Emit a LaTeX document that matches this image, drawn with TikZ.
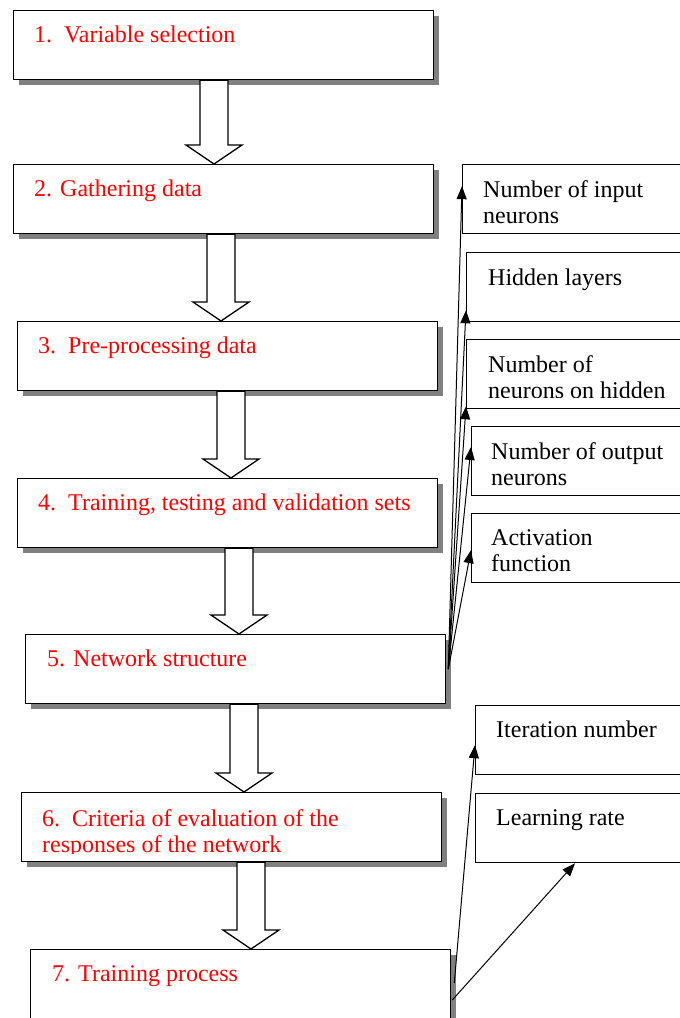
\documentclass[tikz,border=0pt]{standalone}
\usepackage{fontspec}
\setmainfont{Liberation Serif}
\usepackage{tikz}
\usetikzlibrary{calc,positioning,shadows,arrows.meta}

% hollow block arrow: from box #1 down to box #2, axis #3 from the west side of #2
\newcommand{\flowarrow}[3]{%
  \path ($(#2.north west)+(#3,0)$) coordinate (tip);
  \draw[fill=white,line width=1.3pt] (tip) -- ++(-28,-19) -- ++(14,0)
    -- ($(#1.south -| tip)+(-14,0)$) -- ++(28,0)
    -- ($(tip)+(14,-19)$) -- ++(14,0) -- cycle;
}

\begin{document}
\begin{tikzpicture}[x=1pt,y=-1pt,
    stepbox/.style={draw,line width=1.3pt,fill=white,anchor=north west,inner sep=0pt,
      minimum width=420pt,minimum height=69pt,
      drop shadow={shadow xshift=5pt,shadow yshift=-5pt,fill=black!50,opacity=1}},
    sidebox/.style={draw,line width=1.3pt,fill=white,anchor=north west,inner sep=0pt,
      minimum width=240pt,minimum height=69pt},
    steptext/.style={text=red,inner sep=0pt,align=left,
      font=\fontsize{24}{26.5}\selectfont},
    sidetext/.style={steptext,text=black},
    link/.style={line width=1pt,-{Triangle[length=13pt,width=10pt]}}]
  \useasboundingbox (0,0) rectangle (680,1018);
  \clip (0,0) rectangle (680,1018);

  % main steps
  \node[stepbox] (s1) at (13,10) {};
  \node[stepbox] (s2) at (13,164) {};
  \node[stepbox] (s3) at (17,321) {};
  \node[stepbox] (s4) at (17,478) {};
  \node[stepbox] (s5) at (25,634) {};
  \node[stepbox] (s6) at (21,792) {};
  \node[stepbox,minimum height=80pt] (s7) at (30,949) {};

  \node[steptext,below right=16pt and 21pt of s1.north west] (t1) {1.\ \ Variable selection};
  \node[steptext,below right=16pt and 21pt of s2.north west] (t2) {2. Gathering data};
  \node[steptext,below right=16pt and 21pt of s3.north west] (t3) {3.\ \ Pre-processing data};
  \node[steptext,below right=16pt and 21pt of s4.north west] (t4) {4.\ \ Training, testing and validation sets};
  \node[steptext,below right=16pt and 22pt of s5.north west] (t5) {5. Network structure};
  \begin{scope}
    \clip (s6.north west) rectangle ([yshift=9pt]s6.south east);
    \node[steptext,below right=17pt and 21pt of s6.north west] (t6) {6.\ \ Criteria of evaluation of the\\responses of the network};
  \end{scope}
  \node[steptext,below right=16pt and 22pt of s7.north west] (t7) {7. Training process};

  \flowarrow{s1}{s2}{201}
  \flowarrow{s2}{s3}{204}
  \flowarrow{s3}{s4}{214}
  \flowarrow{s4}{s5}{214}
  \flowarrow{s5}{s6}{223}
  \flowarrow{s6}{s7}{221}

  % network structure items
  \node[sidebox] (ra) at (462,164) {};
  \node[sidebox] (rb) at (466,252) {};
  \node[sidebox] (rc) at (466,339) {};
  \node[sidebox] (rd) at (471,426) {};
  \node[sidebox] (re) at (471,513) {};
  \node[sidetext,below right=16pt and 21pt of ra.north west] (ta) {Number of input\\neurons};
  \node[sidetext,below right=17pt and 22pt of rb.north west] (tb) {Hidden layers};
  \begin{scope}
    \clip (rc.north west) rectangle ([yshift=12pt]rc.south east);
    \node[sidetext,below right=16pt and 22pt of rc.north west] (tc) {Number of\\neurons on hidden};
  \end{scope}
  \node[sidetext,below right=16pt and 20pt of rd.north west] (td) {Number of output\\neurons};
  \node[sidetext,below right=16pt and 20pt of re.north west] (te) {Activation\\function};

  % training items
  \node[sidebox] (rf) at (475,705) {};
  \node[sidebox] (rg) at (475,793) {};
  \node[sidetext,below right=16pt and 21pt of rf.north west] (tf) {Iteration number};
  \node[sidetext,below right=16pt and 21pt of rg.north west] (tg) {Learning rate};

  \coordinate (o5) at ([xshift=2pt]s5.east);
  \draw[link] (o5) -- ([yshift=13pt]ra.west);
  \draw[link] (o5) -- ([yshift=12pt]rb.south west);
  \draw[link] (o5) -- ([yshift=3pt]rc.south west);
  \draw[link] (o5) -- ([yshift=-21pt]rd.north west);
  \draw[link] (o5) -- ([yshift=-2pt]re.west);

  \coordinate (o7a) at ([xshift=3pt,yshift=-34pt]s7.north east);
  \coordinate (o7b) at ([xshift=1pt,yshift=-51pt]s7.north east);
  \draw[link] (o7a) -- ([yshift=-5pt]rf.west);
  \draw[link] (o7b) -- ([xshift=100pt]rg.south west);
\end{tikzpicture}
\end{document}
